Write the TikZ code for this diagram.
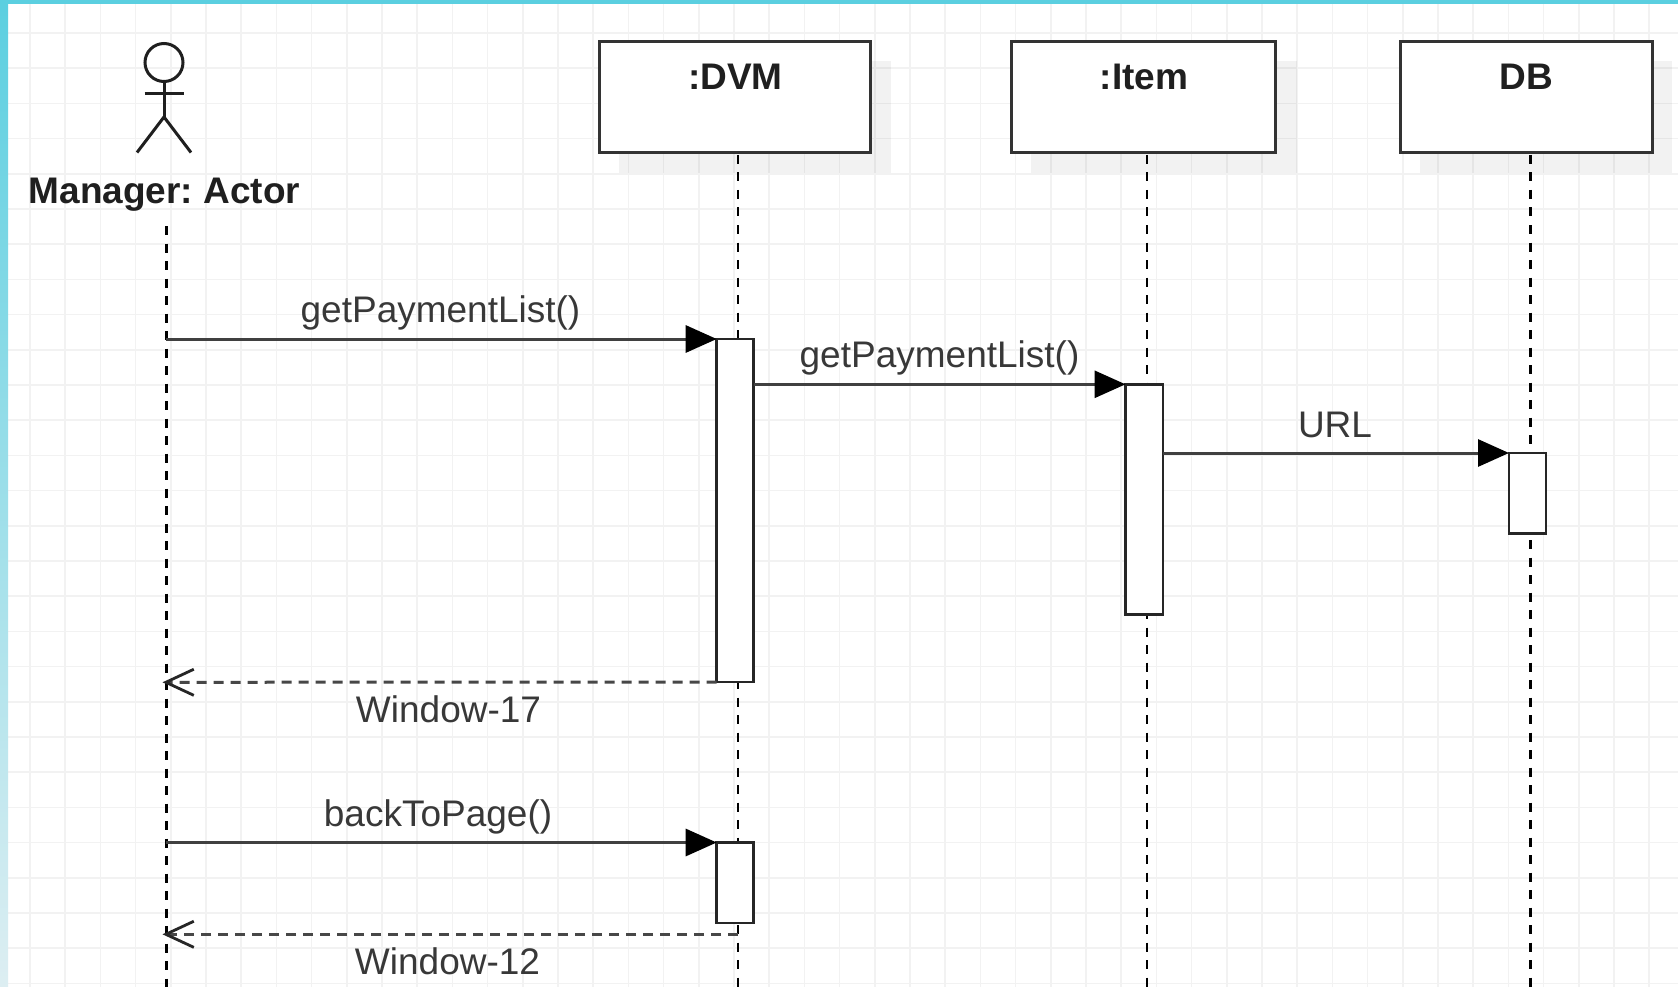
\documentclass[tikz,border=0pt]{standalone}
\usepackage{fontspec}
\setmainfont{Liberation Sans}
\usetikzlibrary{arrows.meta}
\definecolor{gridc}{HTML}{F2F2F2}
\definecolor{barc}{HTML}{5BCFE0}
\definecolor{barl}{HTML}{DDEEF2}
\definecolor{linec}{HTML}{333333}
\tikzset{
  boxnode/.style={draw=linec,fill=white,line width=3pt,minimum width=#1,minimum height=111pt,inner sep=0pt,outer sep=0pt,anchor=north west},
  shadowrect/.style={fill=black,fill opacity=0.05,draw=none},
  titletext/.style={font=\fontsize{37}{40}\selectfont\bfseries,text=black!88,anchor=base,inner sep=0pt},
  msgtext/.style={font=\fontsize{37}{40}\selectfont,text=black!78,anchor=base,inner sep=0pt},
  lifeline/.style={draw=black,line width=2.7pt,dash pattern=on 9pt off 8.5pt},
  actbox/.style={draw=black!85,fill=white,line width=2.8pt,minimum width=37pt,minimum height=#1,inner sep=0pt,outer sep=0pt,anchor=north west},
  callmsg/.style={draw=black!75,line width=3pt,-{Triangle[length=31pt,width=27pt,fill=black,color=black]}},
  retmsg/.style={draw=black!72,line width=3pt,dash pattern=on 10pt off 7pt,-{Straight Barb[length=28pt,width=26pt,line width=2.8pt,color=black!85,angle'=50]}},
  stick/.style={draw=black!88,line width=3pt},
}
\begin{document}
\begin{tikzpicture}[x=1pt,y=-1pt]
\useasboundingbox (0,0) rectangle (1678,987);
\fill[white] (0,0) rectangle (1678,987);
% grid
\foreach \i in {0,...,47} \draw[gridc,line width=1.6pt] ({30+35.2*\i},0) -- ({30+35.2*\i},987);
\foreach \i in {0,...,27} \draw[gridc,line width=1.6pt] (0,{33+35.2*\i}) -- (1678,{33+35.2*\i});
% frame bars
\shade[top color=barc,bottom color=barl] (0,0) rectangle (8,987);
\fill[barc] (0,0) rectangle (1678,4);
% shadows
\fill[shadowrect] (619,60.7) rectangle (891,172.7);
\fill[shadowrect] (1031,60.7) rectangle (1296.7,172.7);
\fill[shadowrect] (1420,60.7) rectangle (1672.3,172.7);
% lifeline ends
\coordinate (mtop) at (166.2,226);
\coordinate (mbot) at (166.2,987);
\coordinate (dtop) at (738,155);
\coordinate (dbot) at (738,987);
\coordinate (itop) at (1147,155);
\coordinate (ibot) at (1147,987);
\coordinate (btop) at (1530.3,155);
\coordinate (bbot) at (1530.3,987);
\draw[lifeline] (mtop) -- (mbot);
\draw[lifeline] (dtop) -- (dbot);
\draw[lifeline] (itop) -- (ibot);
\draw[lifeline] (btop) -- (bbot);
% actor
\node[circle,draw=black!88,line width=3pt,minimum size=38pt,inner sep=0pt,outer sep=0pt] (head) at (164,62.5) {};
\coordinate (hip) at (164,117);
\coordinate (arml) at (144.5,93.7);
\coordinate (armr) at (184,93.7);
\coordinate (legl) at (137,152.5);
\coordinate (legr) at (191,152.5);
\draw[stick] (head.south) -- (hip);
\draw[stick] (arml) -- (armr);
\draw[stick] (legl) -- (hip) -- (legr);
\node[titletext] (manager) at (164.5,204) {Manager:\hspace{10.5pt}Actor};
% boxes
\node[boxnode=271pt] (dvm) at (599,41.5) {};
\node[boxnode=264.6pt] (item) at (1011.2,41.5) {};
\node[boxnode=252pt] (db) at (1400,41.5) {};
\node[titletext] (dvmt) at (735.5,90) {:DVM};
\node[titletext] (itemt) at (1144,90) {:Item};
\node[titletext] (dbt) at (1526,90) {DB};
% activations
\node[actbox=343pt] (a1) at (716.7,339) {};
\node[actbox=230pt,minimum width=37.5pt] (a2) at (1125.5,384.3) {};
\node[actbox=80.5pt,minimum width=37pt] (a3) at (1509,453) {};
\node[actbox=80.5pt] (a4) at (716.7,842.5) {};
% messages
\coordinate (m1) at (166.2,339);
\coordinate (m4) at (166.2,842.5);
\coordinate (r1) at (162.5,682.3);
\coordinate (r2) at (162.5,934.3);
\coordinate (d2) at (738,934.3);
\draw[callmsg] (m1) -- (a1.north west);
\draw[callmsg] (a1.east |- a2.north west) -- (a2.north west);
\draw[callmsg] (a2.east |- a3.north west) -- (a3.north west);
\draw[retmsg] (a1.south west) -- (r1);
\draw[callmsg] (m4) -- (a4.north west);
\draw[retmsg] (d2) -- (r2);
% labels
\node[msgtext] (l1) at (440.5,322) {getPaymentList()};
\node[msgtext] (l2) at (939.5,367) {getPaymentList()};
\node[msgtext] (l3) at (1335,437) {URL};
\node[msgtext] (l4) at (448.5,722) {Window-17};
\node[msgtext] (l5) at (438,826) {backToPage()};
\node[msgtext] (l6) at (447.5,974) {Window-12};
\end{tikzpicture}
\end{document}
